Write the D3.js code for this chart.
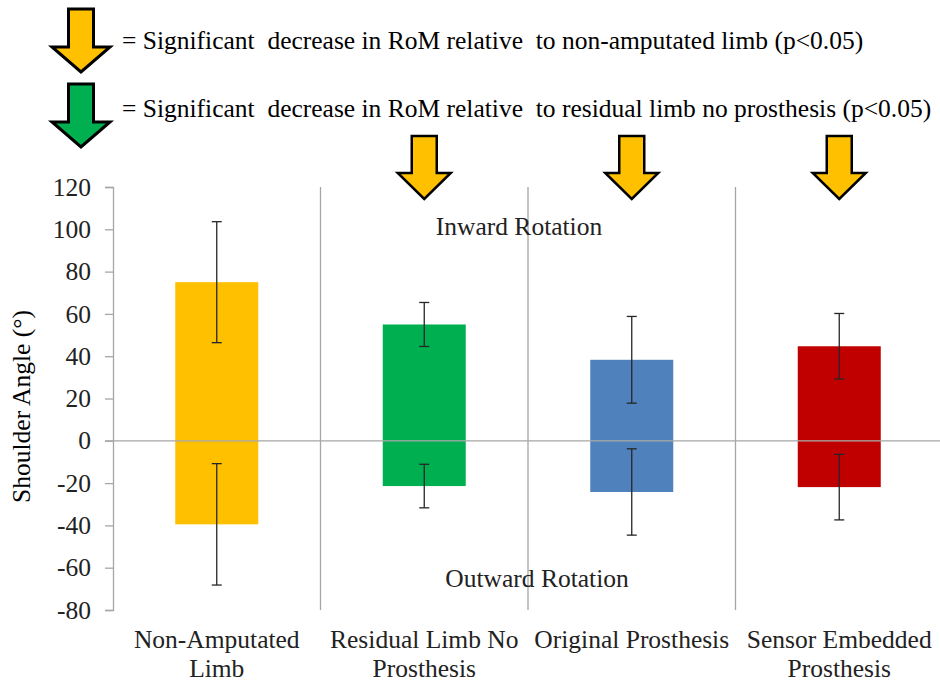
<!DOCTYPE html>
<html><head><meta charset="utf-8">
<script src="https://cdn.jsdelivr.net/npm/d3@7"></script>
<style>
html,body{margin:0;padding:0;background:#fff;}
svg{display:block;}
svg text{font-family:"Liberation Serif","Times New Roman",serif;}
</style></head>
<body><svg id="chart" width="940" height="683"></svg>
<script>
const categories = ["Non-Amputated Limb", "Residual Limb No Prosthesis", "Original Prosthesis", "Sensor Embedded Prosthesis"];
const categoryLines = [["Non-Amputated", "Limb"], ["Residual Limb No", "Prosthesis"], ["Original Prosthesis"], ["Sensor Embedded", "Prosthesis"]];
const inward = [75, 55, 38.3, 44.7];
const inwardErr = [28.6, 10.4, 20.5, 15.5];
const outward = [-39.5, -21.4, -24.2, -21.9];
const outwardErr = [28.7, 10.3, 20.4, 15.5];
const barColors = ["#FFC000", "#00B050", "#4F81BD", "#C00000"];
const sigVsNonAmputated = [false, true, true, true];
const yTicks = [-80, -60, -40, -20, 0, 20, 40, 60, 80, 100, 120];
const legendItems = [
  {color: "#FFC000", text: "= Significant  decrease in RoM relative  to non-amputated limb (p<0.05)"},
  {color: "#00B050", text: "= Significant  decrease in RoM relative  to residual limb no prosthesis (p<0.05)"}
];

const svg = d3.select("#chart");
const mLeft = 113, mRight = 943, mTop = 187, mBottom = 610;
const gray = "#A6A6A6";
const fs = 25.5;
const serif = "Liberation Serif, Times New Roman, serif";

const x = d3.scaleBand().domain(categories).range([mLeft, mRight]).padding(0);
const y = d3.scaleLinear().domain([-80, 120]).range([mBottom, mTop]);
const bw = x.bandwidth() * 0.4;

function arrowPath(cx, ty, w, sw, hs, h) {
  return `M${cx - sw/2},${ty} L${cx + sw/2},${ty} L${cx + sw/2},${ty + hs} L${cx + w/2},${ty + hs} L${cx},${ty + h} L${cx - w/2},${ty + hs} L${cx - sw/2},${ty + hs} Z`;
}

// legend
legendItems.forEach((d, i) => {
  const ty = 9 + i * 75;
  svg.append("path").attr("d", arrowPath(81, ty, 58, 25, 38, 63))
    .attr("fill", d.color).attr("stroke", "#000").attr("stroke-width", 3).attr("stroke-linejoin", "miter");
  svg.append("text").attr("x", 122).attr("y", 49 + i * 68)
    .attr("font-family", serif).attr("font-size", fs).attr("fill", "#000")
    .style("white-space", "pre").text(d.text);
});

// separators
svg.append("g").selectAll("line").data(categories.slice(1)).join("line")
  .attr("x1", d => x(d)).attr("x2", d => x(d))
  .attr("y1", y(120)).attr("y2", y(-80))
  .attr("stroke", gray).attr("stroke-width", 1.3);

// bars
const bars = svg.append("g");
categories.forEach((c, i) => {
  const cx = x(c) + x.bandwidth() / 2;
  bars.append("rect").attr("x", cx - bw/2).attr("width", bw)
    .attr("y", y(inward[i])).attr("height", y(0) - y(inward[i])).attr("fill", barColors[i]);
  bars.append("rect").attr("x", cx - bw/2).attr("width", bw)
    .attr("y", y(0)).attr("height", y(outward[i]) - y(0)).attr("fill", barColors[i]);
});

// zero line
svg.append("line").attr("x1", mLeft - 8).attr("x2", 940)
  .attr("y1", y(0)).attr("y2", y(0)).attr("stroke", gray).attr("stroke-width", 1.3);

// error bars
const eb = svg.append("g").attr("stroke", "#262626").attr("stroke-width", 1.3);
categories.forEach((c, i) => {
  const cx = x(c) + x.bandwidth() / 2;
  [[inward[i], inwardErr[i]], [outward[i], outwardErr[i]]].forEach(([v, e]) => {
    eb.append("line").attr("x1", cx).attr("x2", cx).attr("y1", y(v + e)).attr("y2", y(v - e));
    eb.append("line").attr("x1", cx - 5).attr("x2", cx + 5).attr("y1", y(v + e)).attr("y2", y(v + e));
    eb.append("line").attr("x1", cx - 5).attr("x2", cx + 5).attr("y1", y(v - e)).attr("y2", y(v - e));
  });
});

// y axis
const yAxis = svg.append("g").attr("transform", `translate(${mLeft},0)`)
  .call(d3.axisLeft(y).tickValues(yTicks).tickSize(8).tickPadding(14).tickFormat(d => String(d)));
yAxis.attr("font-family", serif);
yAxis.select(".domain").attr("stroke", gray).attr("stroke-width", 1.3);
yAxis.selectAll(".tick line").attr("stroke", gray).attr("stroke-width", 1.3);
yAxis.selectAll(".tick text").attr("font-size", fs).attr("fill", "#222")
  .attr("font-family", serif);

// y label
svg.append("text").attr("transform", `translate(30,${(mTop + mBottom) / 2 + 8}) rotate(-90)`)
  .attr("text-anchor", "middle").attr("font-family", serif).attr("font-size", fs).attr("fill", "#000")
  .text("Shoulder Angle (°)");

// category labels
categories.forEach((c, i) => {
  const cx = x(c) + x.bandwidth() / 2;
  const t = svg.append("text").attr("text-anchor", "middle").attr("font-family", serif)
    .attr("font-size", fs).attr("fill", "#222");
  categoryLines[i].forEach((l, j) => {
    t.append("tspan").attr("x", cx).attr("y", 648 + j * 29).text(l);
  });
});

// significance arrows
categories.forEach((c, i) => {
  if (!sigVsNonAmputated[i]) return;
  const cx = x(c) + x.bandwidth() / 2;
  svg.append("path").attr("d", arrowPath(cx, 136, 53, 25, 37, 63))
    .attr("fill", "#FFC000").attr("stroke", "#000").attr("stroke-width", 2.5);
});

// annotations
svg.append("text").attr("x", 519).attr("y", 235).attr("text-anchor", "middle")
  .attr("font-family", serif).attr("font-size", fs).attr("fill", "#222").text("Inward Rotation");
svg.append("text").attr("x", 537).attr("y", 587).attr("text-anchor", "middle")
  .attr("font-family", serif).attr("font-size", fs).attr("fill", "#222").text("Outward Rotation");
</script></body></html>
